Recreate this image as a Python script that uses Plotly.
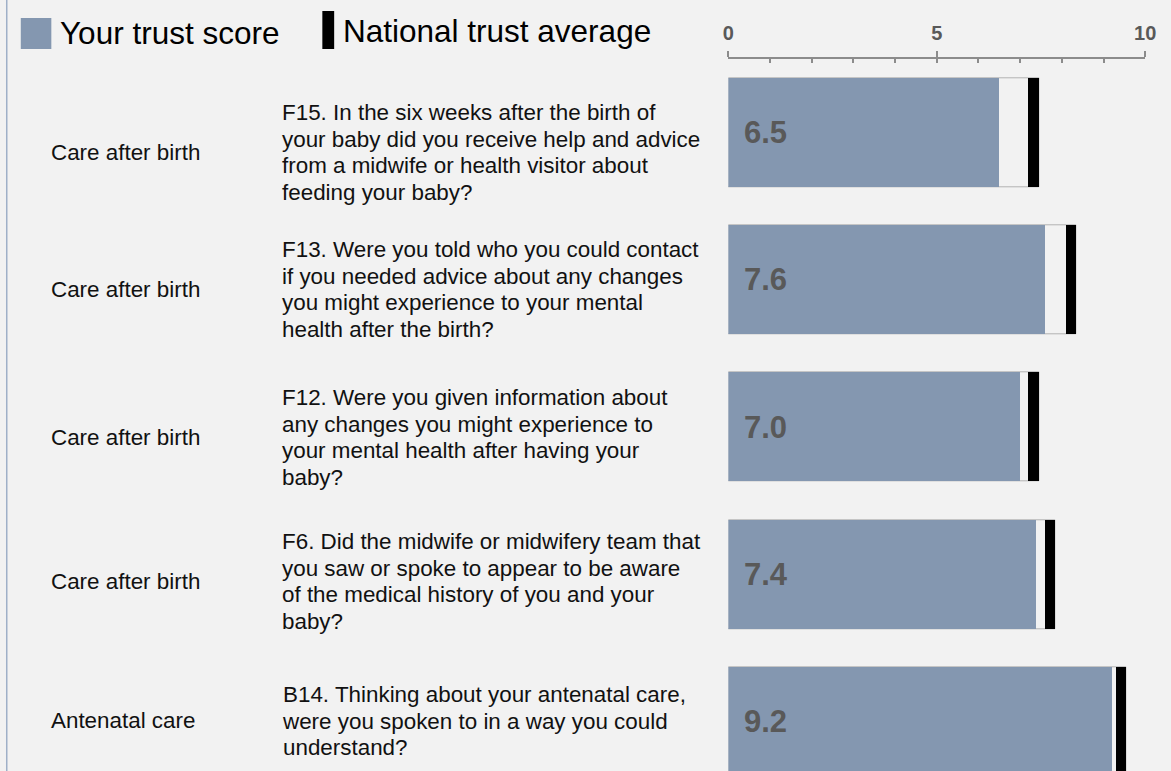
import plotly.graph_objects as go

# ---------------- data ----------------
categories = ["Care after birth", "Care after birth", "Care after birth",
              "Care after birth", "Antenatal care"]
question_lines = [
    ["F15. In the six weeks after the birth of", "your baby did you receive help and advice",
     "from a midwife or health visitor about", "feeding your baby?"],
    ["F13. Were you told who you could contact", "if you needed advice about any changes",
     "you might experience to your mental", "health after the birth?"],
    ["F12. Were you given information about", "any changes you might experience to",
     "your mental health after having your", "baby?"],
    ["F6. Did the midwife or midwifery team that", "you saw or spoke to appear to be aware",
     "of the medical history of you and your", "baby?"],
    ["B14. Thinking about your antenatal care,", "were you spoken to in a way you could",
     "understand?"],
]
trust_scores = [6.5, 7.6, 7.0, 7.4, 9.2]
national_average = [7.33, 8.23, 7.33, 7.73, 9.43]
tick_values = [0, 5, 10]
legend_labels = ["Your trust score", "National trust average"]

# ---------------- layout constants ----------------
W, H = 1171, 771
FONT = "Liberation Sans, Arial, sans-serif"
BG = "#f2f2f2"
BLUE = "#8497b0"
MARK_W = 0.25          # width of the national-average marker (axis units)
BAR_W = 0.74
AXIS_TOP_PX = 59.3
X0_PX, X10_PX = 733, 1156
ROW0_PX, ROW_PITCH = 132.5, 147.3
TEXT_OFFSET_PX = [20.5, 9.5, 10, 7, -1]   # vertical offset of text blocks vs bar centre
GLYPH = 22.4           # glyph size of row texts
LINE_FONT = 20.4       # controls line spacing (1.3 em)

rows = list(range(len(trust_scores)))
y_top = (AXIS_TOP_PX - ROW0_PX) / ROW_PITCH
y_bot = (H - ROW0_PX) / ROW_PITCH

fig = go.Figure()
# outline box (0 -> right edge of national marker)
fig.add_trace(go.Bar(
    y=rows, x=[a + MARK_W / 2 for a in national_average], base=0,
    orientation="h", width=BAR_W,
    marker=dict(color="rgba(0,0,0,0)", line=dict(color="#b3b3b3", width=1)),
    hoverinfo="skip", showlegend=False))
# trust score
fig.add_trace(go.Bar(
    y=rows, x=trust_scores, base=0, orientation="h", width=BAR_W,
    marker=dict(color=BLUE, line=dict(width=0)),
    name=legend_labels[0], showlegend=False))
# national average marker
fig.add_trace(go.Bar(
    y=rows, x=[MARK_W] * len(rows), base=[a - MARK_W / 2 for a in national_average],
    orientation="h", width=BAR_W,
    marker=dict(color="#000000", line=dict(width=0)),
    name=legend_labels[1], showlegend=False))
# invisible trace on overlaid axis for minor ticks
fig.add_trace(go.Scatter(x=[0, 10], y=[0, 0], xaxis="x2", mode="markers",
                         marker=dict(opacity=0), hoverinfo="skip", showlegend=False))


def sized(lines, size):
    return "<br>".join(f'<span style="font-size:{size}px">{ln}</span>' for ln in lines)


annotations = []
for i, (cat, q, s) in enumerate(zip(categories, question_lines, trust_scores)):
    annotations.append(dict(x=43.7 / W, xref="paper", xanchor="left",
                            y=i, yref="y", yanchor="middle", yshift=-TEXT_OFFSET_PX[i],
                            text=cat, showarrow=False, align="left",
                            font=dict(family=FONT, size=GLYPH, color="#111111")))
    annotations.append(dict(x=278 / W, xref="paper", xanchor="left",
                            y=i, yref="y", yanchor="middle", yshift=-TEXT_OFFSET_PX[i],
                            text=sized(q, GLYPH), showarrow=False, align="left",
                            font=dict(family=FONT, size=LINE_FONT, color="#111111")))
    annotations.append(dict(x=0, xref="x", xanchor="left", xshift=14,
                            y=i, yref="y", yanchor="middle",
                            text=f"{s:.1f}", showarrow=False,
                            font=dict(family=FONT, size=31, color="#595959", weight="bold")))

# legend
annotations.append(dict(x=53 / W, xref="paper", xanchor="left", y=1 - 33 / H, yref="paper",
                        yanchor="middle", text=legend_labels[0], showarrow=False,
                        font=dict(family=FONT, size=31.5, color="#000000")))
annotations.append(dict(x=340 / W, xref="paper", xanchor="left", y=1 - 31 / H, yref="paper",
                        yanchor="middle", text=legend_labels[1], showarrow=False,
                        font=dict(family=FONT, size=31.5, color="#000000")))

shapes = [
    dict(type="rect", xref="paper", yref="paper", x0=15 / W, x1=46 / W,
         y0=1 - 49 / H, y1=1 - 18 / H, fillcolor=BLUE, line=dict(width=0)),
    dict(type="rect", xref="paper", yref="paper", x0=321 / W, x1=333 / W,
         y0=1 - 49 / H, y1=1 - 11 / H, fillcolor="#000000", line=dict(width=0)),
    dict(type="line", xref="paper", yref="paper", x0=0.75 / W, x1=0.75 / W, y0=0, y1=1,
         line=dict(color="#9fb0c8", width=1.5)),
]

dom = [X0_PX / W, X10_PX / W]
fig.update_layout(
    width=W, height=H, margin=dict(l=0, r=0, t=0, b=0),
    paper_bgcolor=BG, plot_bgcolor=BG, barmode="overlay", bargap=0,
    showlegend=False,
    xaxis=dict(domain=dom, range=[0, 10], side="top", tickvals=tick_values,
               ticks="outside", ticklen=6, tickwidth=2, tickcolor="#8c8c8c",
               ticklabelstandoff=3,
               showline=True, linecolor="#8c8c8c", linewidth=2, showgrid=False,
               zeroline=False, anchor="y",
               tickfont=dict(family=FONT, size=20, color="#595959", weight="bold")),
    xaxis2=dict(domain=dom, range=[0, 10], side="top", overlaying="x", anchor="y",
                tick0=0, dtick=1, ticks="inside", ticklen=4, tickwidth=2,
                tickcolor="#8c8c8c", showticklabels=False, showgrid=False,
                zeroline=False, showline=False),
    yaxis=dict(domain=[0, 1 - AXIS_TOP_PX / H], range=[y_bot, y_top], visible=False,
               showgrid=False, zeroline=False),
    annotations=annotations, shapes=shapes,
)

fig.write_html("out.html", config={"displayModeBar": False},
               post_script="document.body.style.margin='0';document.body.style.overflow='hidden';")
